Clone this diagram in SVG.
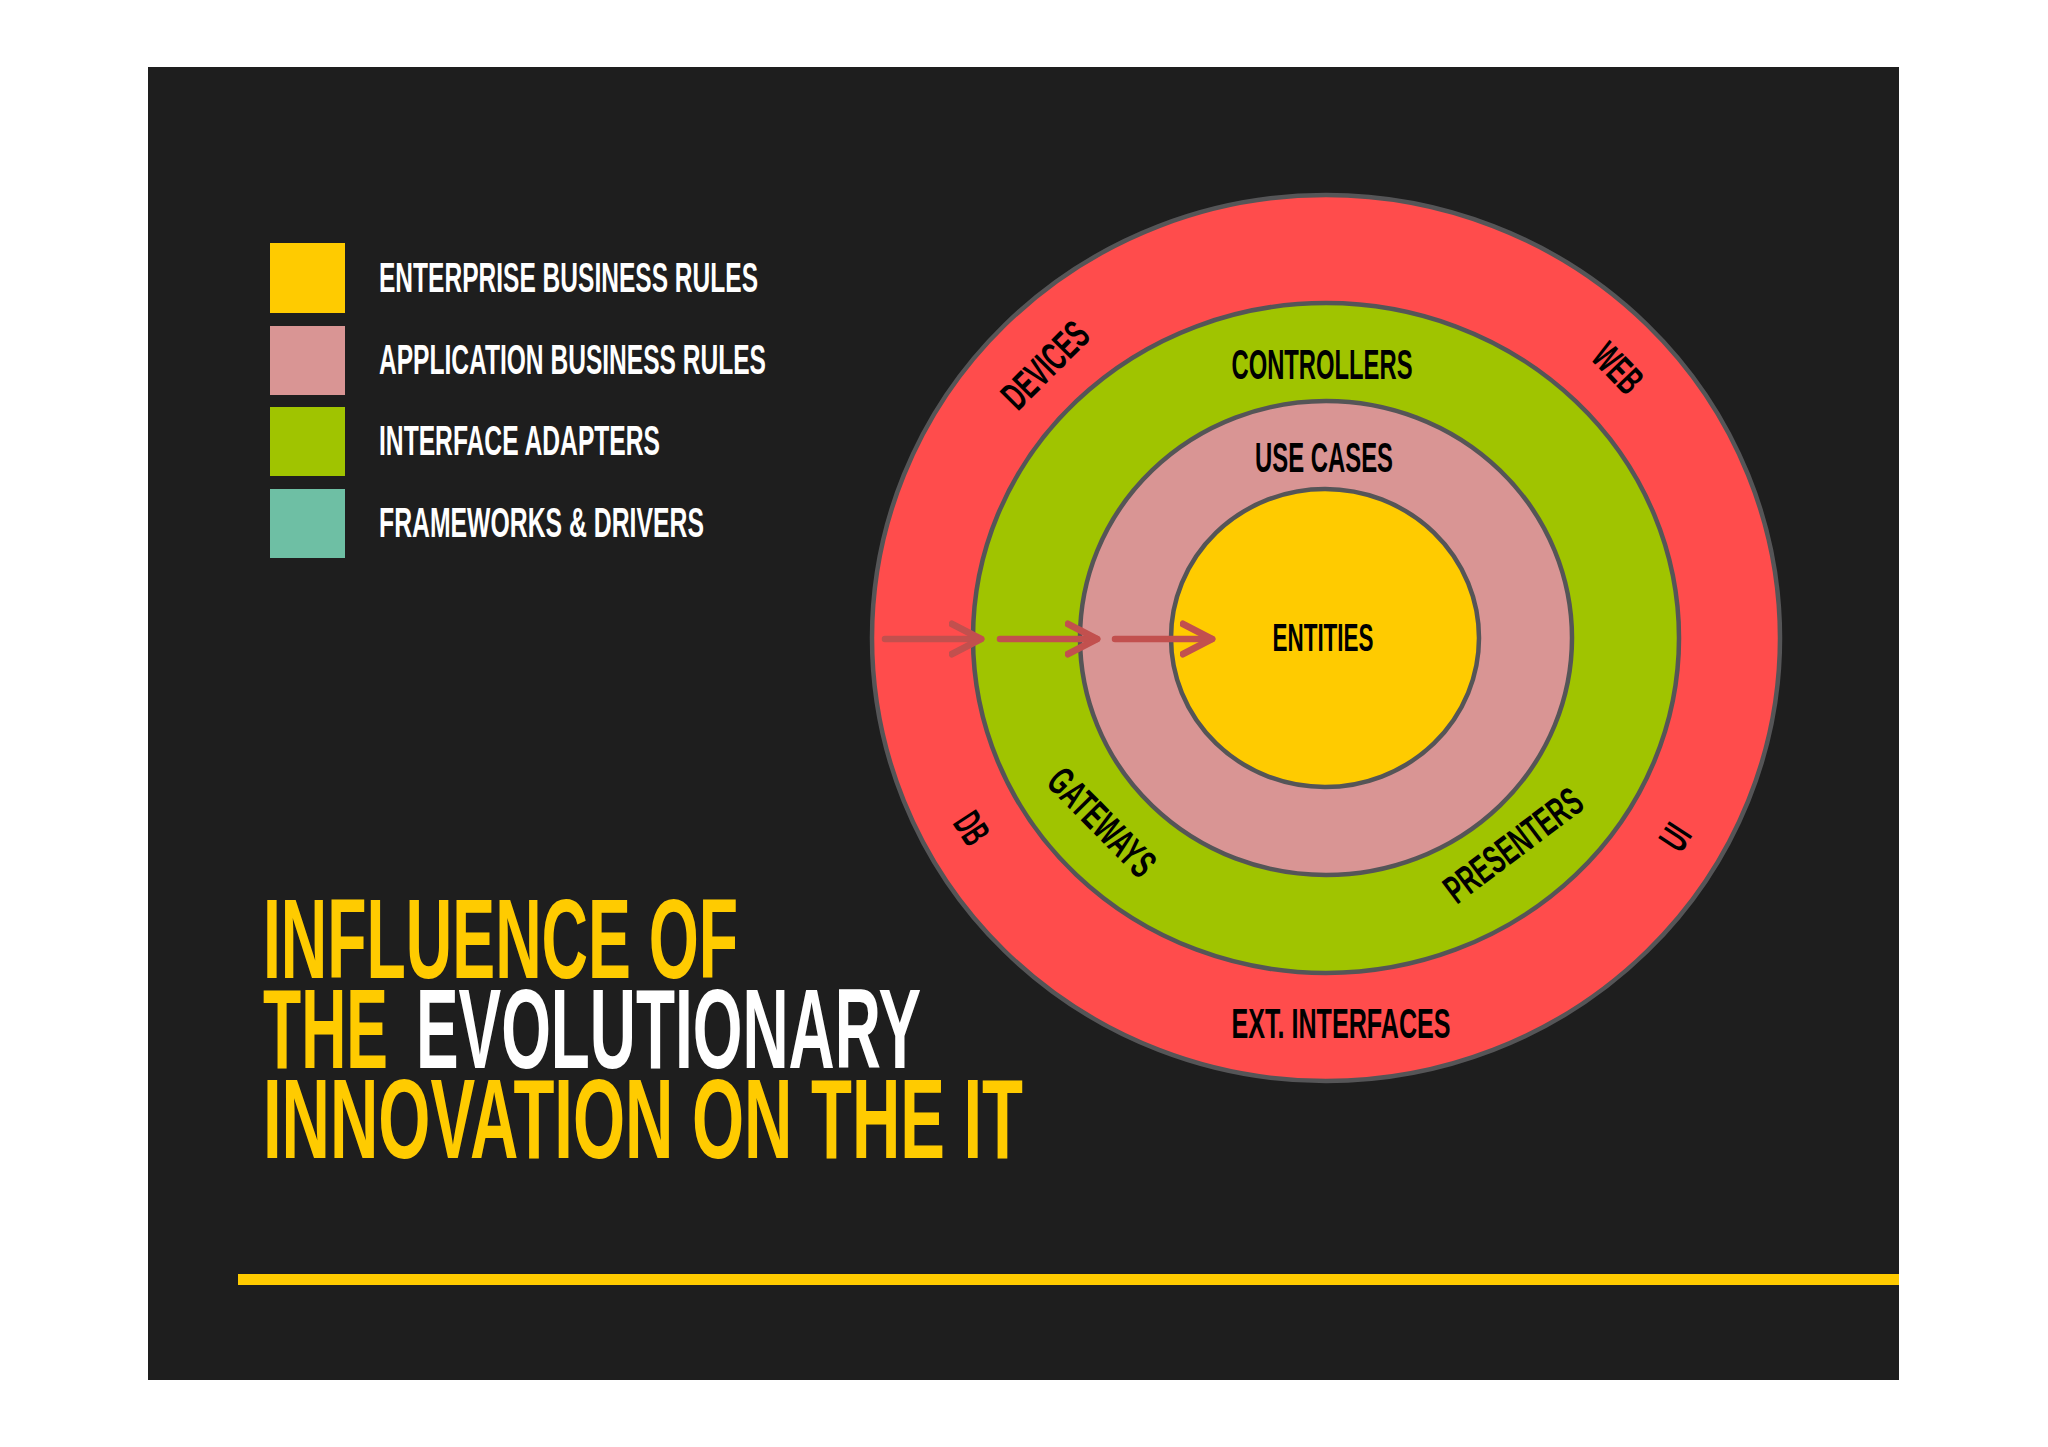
<svg xmlns="http://www.w3.org/2000/svg" width="2048" height="1447" viewBox="0 0 2048 1447">
  <defs>
    <style>
      .lbl { font-family: "Liberation Sans Narrow", "Liberation Sans", Arial, sans-serif; font-weight: bold; fill: #000000; }
      .leg { font-family: "Liberation Sans Narrow", "Liberation Sans", Arial, sans-serif; font-weight: bold; fill: #ffffff; font-size: 43px; }
      .title { font-family: "Liberation Sans Narrow", "Liberation Sans", Arial, sans-serif; font-weight: bold; font-size: 113px; fill: #ffcb00; }
      .ring { stroke: #555557; stroke-width: 4.5; }
      .arrow { fill: none; stroke: #c2504e; stroke-width: 6.5; stroke-linecap: round; stroke-linejoin: round; }
    </style>
    <marker id="chev" markerUnits="userSpaceOnUse" markerWidth="40" markerHeight="40" refX="32" refY="18" orient="auto" viewBox="0 0 40 36">
      <path d="M3,3 L32,18 L3,33" fill="none" stroke="#c2504e" stroke-width="7" stroke-linecap="round" stroke-linejoin="round"/>
    </marker>
  </defs>

  <rect id="page" x="0" y="0" width="2048" height="1447" fill="#ffffff"/>
  <rect id="board" x="148" y="67" width="1751" height="1313" fill="#1e1e1e"/>

  <g id="legend">
    <g id="legend-enterprise">
      <rect x="270" y="243" width="75" height="70" fill="#ffcb00"/>
      <text class="leg" x="379" y="292" textLength="379" lengthAdjust="spacingAndGlyphs">ENTERPRISE BUSINESS RULES</text>
    </g>
    <g id="legend-application">
      <rect x="270" y="326" width="75" height="69" fill="#d99594"/>
      <text class="leg" x="379" y="374" textLength="387" lengthAdjust="spacingAndGlyphs">APPLICATION BUSINESS RULES</text>
    </g>
    <g id="legend-interface">
      <rect x="270" y="407" width="75" height="69" fill="#a0c400"/>
      <text class="leg" x="379" y="455" textLength="281" lengthAdjust="spacingAndGlyphs">INTERFACE ADAPTERS</text>
    </g>
    <g id="legend-frameworks">
      <rect x="270" y="489" width="75" height="69" fill="#6ebfa4"/>
      <text class="leg" x="379" y="537" textLength="325" lengthAdjust="spacingAndGlyphs">FRAMEWORKS &amp; DRIVERS</text>
    </g>
  </g>

  <g id="title">
    <text class="title"><tspan x="263" y="978" textLength="475" lengthAdjust="spacingAndGlyphs">INFLUENCE OF</tspan><tspan x="263" y="1068" textLength="125" lengthAdjust="spacingAndGlyphs">THE</tspan><tspan x="416" y="1068" fill="#ffffff" textLength="505" lengthAdjust="spacingAndGlyphs">EVOLUTIONARY</tspan><tspan x="263" y="1158" textLength="760" lengthAdjust="spacingAndGlyphs">INNOVATION ON THE IT</tspan></text>
  </g>

  <rect id="rule" x="238" y="1274" width="1661" height="11" fill="#ffcb00"/>

  <g id="ring-frameworks">
    <ellipse class="ring" cx="1326" cy="638" rx="454" ry="443" fill="#ff4c4c"/>
  </g>
  <g id="ring-interface">
    <ellipse class="ring" cx="1326" cy="638" rx="353" ry="335" fill="#a0c400"/>
  </g>
  <g id="ring-application">
    <ellipse class="ring" cx="1326" cy="638" rx="246" ry="237" fill="#d99594"/>
  </g>
  <g id="ring-enterprise">
    <ellipse class="ring" cx="1325" cy="638" rx="154" ry="149" fill="#ffcb00"/>
  </g>

  <g id="labels">
    <g id="lbl-controllers"><text class="lbl" x="1322" y="379" font-size="42" text-anchor="middle" textLength="181" lengthAdjust="spacingAndGlyphs">CONTROLLERS</text></g>
    <g id="lbl-usecases"><text class="lbl" x="1324" y="472" font-size="42" text-anchor="middle" textLength="138" lengthAdjust="spacingAndGlyphs">USE CASES</text></g>
    <g id="lbl-entities"><text class="lbl" x="1323" y="651" font-size="39" text-anchor="middle" textLength="101" lengthAdjust="spacingAndGlyphs">ENTITIES</text></g>
    <g id="lbl-ext"><text class="lbl" x="1341" y="1038" font-size="42" text-anchor="middle" textLength="219" lengthAdjust="spacingAndGlyphs">EXT. INTERFACES</text></g>
    <g id="lbl-devices" transform="translate(1045,365) rotate(-45)"><text class="lbl" x="0" y="14" font-size="40" text-anchor="middle" textLength="105" lengthAdjust="spacingAndGlyphs">DEVICES</text></g>
    <g id="lbl-web" transform="translate(1618,368) rotate(46)"><text class="lbl" x="0" y="14" font-size="40" text-anchor="middle" textLength="53" lengthAdjust="spacingAndGlyphs">WEB</text></g>
    <g id="lbl-db" transform="translate(972,828) rotate(57)"><text class="lbl" x="0" y="14" font-size="40" text-anchor="middle" textLength="30" lengthAdjust="spacingAndGlyphs">DB</text></g>
    <g id="lbl-gateways" transform="translate(1102,822) rotate(45.5)"><text class="lbl" x="0" y="14" font-size="40" text-anchor="middle" textLength="135" lengthAdjust="spacingAndGlyphs">GATEWAYS</text></g>
    <g id="lbl-presenters" transform="translate(1513,845) rotate(-37)"><text class="lbl" x="0" y="14" font-size="40" text-anchor="middle" textLength="162" lengthAdjust="spacingAndGlyphs">PRESENTERS</text></g>
    <g id="lbl-ui" transform="translate(1675,837) rotate(-57)"><text class="lbl" x="0" y="14" font-size="40" text-anchor="middle" textLength="23" lengthAdjust="spacingAndGlyphs">UI</text></g>
  </g>

  <g id="connectors">
    <path class="arrow" d="M885,639 L981,639" marker-end="url(#chev)"/>
    <path class="arrow" d="M1000,639 L1097,639" marker-end="url(#chev)"/>
    <path class="arrow" d="M1115,639 L1212,639" marker-end="url(#chev)"/>
  </g>
</svg>
